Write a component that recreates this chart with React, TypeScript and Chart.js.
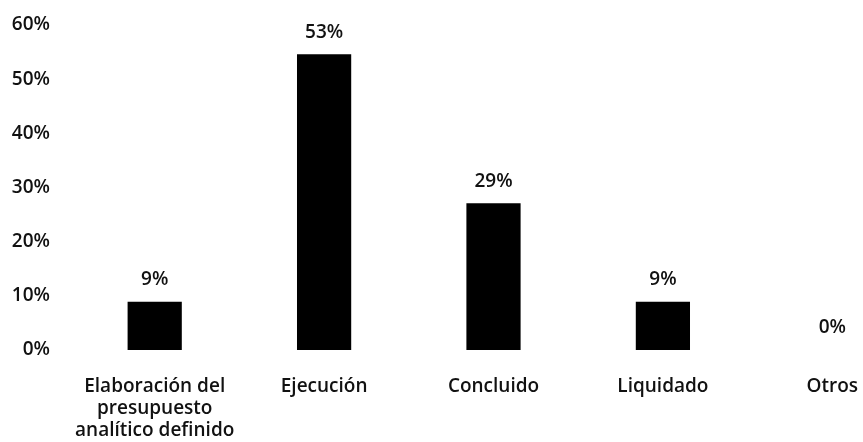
import React, { useEffect, useRef } from "react";
import { Chart, registerables } from "chart.js";

Chart.register(...registerables);

const categories: (string | string[])[] = [
  ["Elaboración del", "presupuesto", "analítico definido"],
  "Ejecución",
  "Concluido",
  "Liquidado",
  "Otros",
];
const barValues: number[] = [8.9, 54.6, 27.1, 8.9, 0];
const barLabels: string[] = ["9%", "53%", "29%", "9%", "0%"];
const yTicks: number[] = [0, 10, 20, 30, 40, 50, 60];

const FONT = "'Open Sans'";
const FONT_SIZE = 19;
const FONT_WEIGHT = "600";
const TEXT_COLOR = "#111111";

const valueLabelPlugin = {
  id: "valueLabels",
  afterDatasetsDraw(chart: any) {
    const ctx = chart.ctx;
    const meta = chart.getDatasetMeta(0);
    ctx.save();
    ctx.font = `${FONT_WEIGHT} ${FONT_SIZE}px ${FONT}`;
    ctx.fillStyle = TEXT_COLOR;
    ctx.textAlign = "center";
    ctx.textBaseline = "middle";
    meta.data.forEach((bar: any, i: number) => {
      ctx.fillText(barLabels[i], bar.x, bar.y - 22);
    });
    ctx.restore();
  },
};

export default function App() {
  const canvasRef = useRef<HTMLCanvasElement | null>(null);

  useEffect(() => {
    if (!canvasRef.current) return;
    const chart = new Chart(canvasRef.current, {
      type: "bar",
      data: {
        labels: categories,
        datasets: [
          {
            data: barValues,
            backgroundColor: "#000000",
            barPercentage: 0.32,
            categoryPercentage: 1,
          },
        ],
      },
      options: {
        animation: false,
        responsive: true,
        maintainAspectRatio: false,
        layout: { padding: { top: 25, left: 0, right: 0, bottom: 0 } },
        plugins: {
          legend: { display: false },
          tooltip: { enabled: false },
        },
        scales: {
          x: {
            offset: true,
            grid: { display: false, drawTicks: false },
            border: { display: false },
            ticks: {
              color: TEXT_COLOR,
              font: { family: FONT, size: FONT_SIZE, weight: FONT_WEIGHT, lineHeight: 1.18 },
              padding: 25,
              maxRotation: 0,
              minRotation: 0,
              autoSkip: false,
            },
            afterFit: (scale: any) => {
              scale.height = 92;
            },
          },
          y: {
            min: 0,
            max: 60,
            afterBuildTicks: (scale: any) => {
              scale.ticks = yTicks.map((v) => ({ value: v }));
            },
            grid: { display: false, drawTicks: false },
            border: { display: false },
            ticks: {
              color: TEXT_COLOR,
              font: { family: FONT, size: FONT_SIZE, weight: FONT_WEIGHT },
              padding: 20,
              callback: (v: any) => `${v}%`,
            },
            afterFit: (scale: any) => {
              scale.width = 70;
              scale.paddingTop = 0;
              scale.paddingBottom = 0;
            },
          },
        },
      },
      plugins: [valueLabelPlugin],
    });
    return () => chart.destroy();
  }, []);

  return (
    <div
      style={{
        position: "fixed",
        left: 0,
        top: 0,
        width: 863,
        height: 442,
        overflow: "hidden",
        background: "#ffffff",
      }}
    >
      <div style={{ position: "relative", width: 917, height: 442 }}>
        <canvas ref={canvasRef} />
      </div>
    </div>
  );
}
